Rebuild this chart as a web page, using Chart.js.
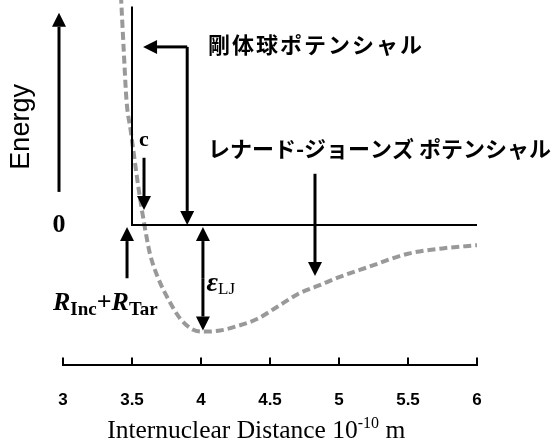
<!DOCTYPE html>
<html>
<head>
<meta charset="utf-8">
<script src="https://cdn.jsdelivr.net/npm/chart.js@4"></script>
<style>
  html, body { margin: 0; padding: 0; background: #fff; }
  #wrap { width: 554px; height: 445px; }
</style>
</head>
<body>
<div id="wrap"><canvas id="potential"></canvas></div>
<script>
// x axis ticks (10^-10 m)
const xTicks = [3, 3.5, 4, 4.5, 5, 5.5, 6];

// Lennard-Jones potential, energy in units of the well depth
const ljDistance = [3.42, 3.44, 3.46, 3.49, 3.52, 3.55, 3.59, 3.63, 3.69, 3.76, 3.85, 3.94, 4.03, 4.14, 4.26, 4.41, 4.55, 4.7, 4.85, 5.0, 5.2, 5.5, 5.75, 6.0];
const ljEnergy = [2.15, 1.64, 1.17, 0.89, 0.6, 0.32, 0, -0.27, -0.5, -0.69, -0.88, -0.98, -1.0, -0.99, -0.95, -0.88, -0.77, -0.65, -0.57, -0.49, -0.4, -0.27, -0.22, -0.19];

// hard sphere potential: wall at R_Inc + R_Tar, flat zero beyond
const hsDistance = [3.5, 3.5, 6];
const hsEnergy = [2.05, 0, 0];

const SERIF = '"Liberation Serif", "Times New Roman", serif';
const SANS = '"Liberation Sans", Arial, sans-serif';
const JP = '"Noto Sans CJK JP", sans-serif';

function toPoints(xs, ys) {
  return xs.map((x, i) => ({ x: x, y: ys[i] }));
}

function arrow(ctx, x1, y1, x2, y2) {
  const len = 14, half = 7;
  const a = Math.atan2(y2 - y1, x2 - x1);
  const bx = x2 - len * Math.cos(a), by = y2 - len * Math.sin(a);
  ctx.beginPath();
  ctx.moveTo(x1, y1);
  ctx.lineTo(bx, by);
  ctx.stroke();
  ctx.beginPath();
  ctx.moveTo(x2, y2);
  ctx.lineTo(bx + half * Math.sin(a), by - half * Math.cos(a));
  ctx.lineTo(bx - half * Math.sin(a), by + half * Math.cos(a));
  ctx.closePath();
  ctx.fill();
}

function textRun(ctx, parts, x, y) {
  // parts: [text, font, baseline shift]
  let cx = x;
  parts.forEach(p => {
    ctx.font = p[1];
    ctx.fillText(p[0], cx, y + (p[2] || 0));
    cx += ctx.measureText(p[0]).width;
  });
  return cx;
}

const annotations = {
  id: 'annotations',
  afterDatasetsDraw(chart) {
    const ctx = chart.ctx;
    const xs = chart.scales.x, ys = chart.scales.y;
    const px = v => xs.getPixelForValue(v);
    const py = v => ys.getPixelForValue(v);
    const area = chart.chartArea;

    ctx.save();
    ctx.fillStyle = '#000';
    ctx.strokeStyle = '#000';
    ctx.lineCap = 'butt';

    // inward tick marks on the distance axis
    ctx.lineWidth = 2;
    xTicks.forEach(t => {
      ctx.beginPath();
      ctx.moveTo(px(t), area.bottom);
      ctx.lineTo(px(t), area.bottom - 7);
      ctx.stroke();
    });

    ctx.lineWidth = 3;
    // energy arrow
    const ex = area.left - 4;
    arrow(ctx, ex, py(0.31), ex, py(1.99));

    // hard sphere callout
    arrow(ctx, px(3.9), py(1.67), px(3.58), py(1.67));
    arrow(ctx, px(3.9), py(1.67), px(3.9), py(0.0));

    // collision diameter, LJ well, R arrows
    arrow(ctx, px(3.587), py(0.63), px(3.587), py(0.14));
    arrow(ctx, px(4.826), py(0.48), px(4.826), py(-0.48));
    arrow(ctx, px(3.464), py(-0.5), px(3.464), py(-0.02));
    arrow(ctx, px(4.014), py(-0.5), px(4.014), py(-0.02));
    arrow(ctx, px(4.014), py(-0.5), px(4.014), py(-0.99));

    // texts
    ctx.textBaseline = 'middle';
    ctx.textAlign = 'center';
    ctx.font = 'bold 26px ' + SERIF;
    ctx.fillText('0', ex, py(0));
    ctx.font = 'bold 22px ' + SERIF;
    ctx.fillText('c', px(3.587), py(0.79));

    ctx.save();
    ctx.translate(area.left - 41, py(0.92));
    ctx.rotate(-Math.PI / 2);
    ctx.font = '27px ' + SANS;
    ctx.fillText('Energy', 0, 0);
    ctx.restore();

    ctx.textAlign = 'left';
    ctx.font = 'bold 22px ' + JP;
    ctx.letterSpacing = '2px';
    ctx.fillText('剛体球ポテンシャル', px(4.05), py(1.69));
    ctx.letterSpacing = '0px';
    ctx.fillText('レナード-ジョーンズ ポテンシャル', px(4.05), py(0.72));

    ctx.textBaseline = 'alphabetic';
    textRun(ctx, [
      ['R', 'bold italic 26px ' + SERIF],
      ['Inc', 'bold 19px ' + SERIF, 5],
      ['+', 'bold 26px ' + SERIF],
      ['R', 'bold italic 26px ' + SERIF],
      ['Tar', 'bold 19px ' + SERIF, 5]
    ], area.left - 10, py(-0.8));

    textRun(ctx, [
      ['ε', 'bold italic 28px ' + SERIF],
      ['LJ', '17px ' + SERIF, 3]
    ], px(4.04), py(-0.62));

    // axis title with superscript exponent
    textRun(ctx, [
      ['Internuclear Distance 10', '25.5px ' + SERIF],
      ['-10', '16px ' + SERIF, -10],
      [' m', '25.5px ' + SERIF]
    ], px(3.32), 438);

    ctx.restore();
  }
};

new Chart('potential', {
  type: 'scatter',
  data: {
    datasets: [
      {
        label: 'hard sphere',
        data: toPoints(hsDistance, hsEnergy),
        showLine: true,
        borderColor: '#000',
        borderWidth: 2,
        pointRadius: 0
      },
      {
        label: 'Lennard-Jones',
        data: toPoints(ljDistance, ljEnergy),
        showLine: true,
        borderColor: '#999',
        borderWidth: 4,
        borderDash: [8, 4],
        cubicInterpolationMode: 'monotone',
        pointRadius: 0
      }
    ]
  },
  options: {
    responsive: true,
    maintainAspectRatio: false,
    animation: false,
    layout: { padding: { left: 63, right: 77, top: 0, bottom: 8 } },
    plugins: { legend: { display: false }, tooltip: { enabled: false } },
    scales: {
      x: {
        type: 'linear',
        min: 3,
        max: 6,
        afterBuildTicks: s => { s.ticks = xTicks.map(v => ({ value: v })); },
        border: { display: true, color: '#000', width: 2 },
        grid: { display: true, drawOnChartArea: false, drawTicks: false },
        ticks: {
          padding: 26,
          color: '#000',
          callback: v => String(v),
          font: { family: SANS, size: 17, weight: 'bold' }
        }
      },
      y: {
        display: false,
        min: -1.31,
        max: 2.11
      }
    }
  },
  plugins: [annotations]
});
</script>
</body>
</html>
